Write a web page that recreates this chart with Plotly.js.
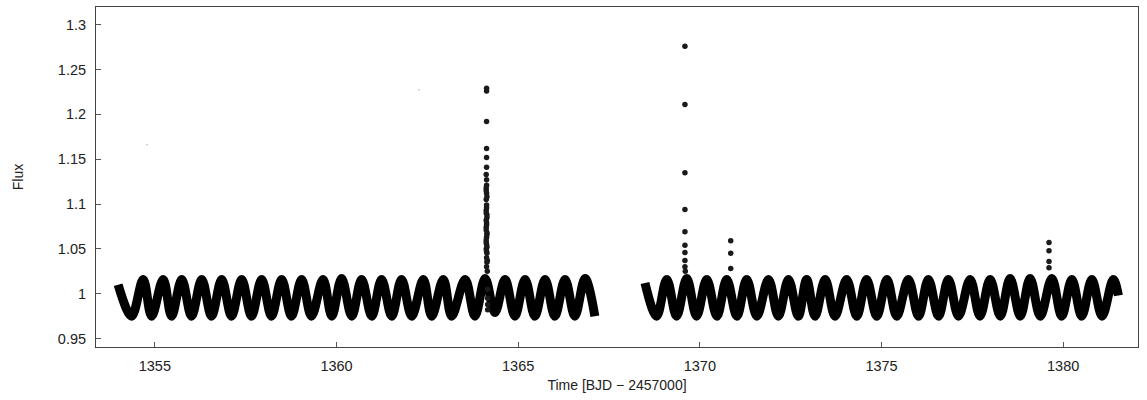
<!DOCTYPE html>
<html><head><meta charset="utf-8">
<script src="https://cdn.plot.ly/plotly-3.0.1.min.js"></script>
<style>html,body{margin:0;padding:0;background:#fff}#chart{width:1147px;height:400px}</style>
</head><body><div id="chart"></div>
<script>
// Segment 1 of the light curve: alternating maxima / minima
const seg1Time = [1353.99,1354.36,1354.68,1354.91,1355.23,1355.46,1355.74,1356.01,1356.29,1356.56,1356.84,1357.11,1357.39,1357.66,1357.94,1358.21,1358.49,1358.76,1359.04,1359.31,1359.63,1359.87,1360.14,1360.42,1360.69,1360.97,1361.24,1361.52,1361.79,1362.07,1362.39,1362.62,1362.94,1363.17,1363.54,1363.81,1364.09,1364.36,1364.64,1364.91,1365.19,1365.46,1365.74,1366.01,1366.29,1366.56,1366.84,1367.11];
const seg1Flux = [1.010,0.975,1.016,0.975,1.016,0.975,1.016,0.975,1.016,0.975,1.016,0.975,1.016,0.975,1.016,0.975,1.016,0.975,1.016,0.975,1.016,0.975,1.017,0.975,1.016,0.975,1.016,0.975,1.016,0.975,1.016,0.975,1.016,0.975,1.016,0.975,1.017,0.979,1.016,0.975,1.016,0.975,1.016,0.975,1.016,0.975,1.017,0.975];
// Segment 2
const seg2Time = [1368.49,1368.81,1369.09,1369.36,1369.64,1369.91,1370.19,1370.47,1370.74,1371.02,1371.29,1371.57,1371.89,1372.16,1372.44,1372.71,1372.94,1373.17,1373.45,1373.72,1374.04,1374.32,1374.59,1374.87,1375.15,1375.42,1375.74,1376.02,1376.29,1376.57,1376.84,1377.12,1377.44,1377.71,1377.99,1378.27,1378.54,1378.82,1379.09,1379.37,1379.69,1379.96,1380.24,1380.51,1380.79,1381.07,1381.38,1381.52];
const seg2Flux = [1.012,0.975,1.016,0.975,1.017,0.975,1.016,0.975,1.016,0.975,1.016,0.975,1.016,0.975,1.016,0.975,1.016,0.975,1.016,0.975,1.016,0.975,1.016,0.975,1.016,0.975,1.016,0.975,1.016,0.975,1.016,0.975,1.016,0.975,1.016,0.975,1.017,0.975,1.017,0.975,1.017,0.975,1.016,0.975,1.016,0.975,1.016,0.998];
// Flare points
const flareTime = [1364.13,1364.13,1364.13,1364.13,1364.13,1364.13,1364.12,1364.13,1364.12,1364.13,1364.12,1364.13,1364.12,1364.14,1364.12,1364.13,1364.12,1364.14,1364.12,1364.13,1364.12,1364.14,1364.13,1364.14,1364.13,1364.15,
  1364.13,1364.12,1364.14,1364.13,1364.12,1364.14,1364.13,1364.12,1364.14,1364.13,1364.12,1364.14,1364.13,1364.15,
  1364.16,1364.16,1364.16,1364.16,
  1369.59,1369.59,1369.59,1369.59,1369.59,1369.59,1369.59,1369.59,1369.59,1369.60,
  1370.85,1370.85,1370.85,
  1379.61,1379.61,1379.61,1379.61];
const flareFlux = [1.229,1.226,1.192,1.162,1.152,1.141,1.133,1.127,1.118,1.112,1.105,1.099,1.093,1.088,1.082,1.077,1.071,1.066,1.060,1.055,1.050,1.045,1.040,1.035,1.030,1.025,
  1.121,1.115,1.108,1.096,1.090,1.085,1.079,1.074,1.068,1.063,1.057,1.052,1.047,1.037,
  1.005,0.995,0.988,0.982,
  1.276,1.211,1.135,1.094,1.069,1.054,1.046,1.037,1.030,1.025,
  1.059,1.045,1.028,
  1.057,1.048,1.036,1.029];
// Faint stray points
const strayTime = [1354.78,1362.27];
const strayFlux = [1.166,1.2275];
const yTickVals = [0.95,1,1.05,1.1,1.15,1.2,1.25,1.3];
const yTickText = ['0.95','1','1.05','1.1','1.15','1.2','1.25','1.3'];
const xTickVals = [1355,1360,1365,1370,1375,1380];
const xTickText = ['1355','1360','1365','1370','1375','1380'];

const band = {color:'#000', width:9, shape:'spline', smoothing:1};
const traces = [
  {x:seg1Time, y:seg1Flux, mode:'lines', line:band, hoverinfo:'skip'},
  {x:seg2Time, y:seg2Flux, mode:'lines', line:band, hoverinfo:'skip'},
  {x:flareTime, y:flareFlux, mode:'markers', marker:{color:'#1a1a1a', size:5.5, symbol:'circle'}},
  {x:strayTime, y:strayFlux, mode:'markers', marker:{color:'#d0d0d0', size:2}}
];
const fontFam = '"Liberation Sans", Arial, sans-serif';
const layout = {
  width:1147, height:400,
  margin:{l:96, r:9, t:7, b:53},
  paper_bgcolor:'#fff', plot_bgcolor:'#fff',
  showlegend:false,
  font:{family:fontFam, size:14.5, color:'#222'},
  xaxis:{range:[1353.38,1382.06], tickvals:xTickVals, ticktext:xTickText, ticks:'inside', ticklen:5, tickcolor:'#555',
    showline:true, mirror:true, linecolor:'#444', linewidth:1, showgrid:false, zeroline:false,
    tickfont:{size:14.5}, ticklabelstandoff:6,
    title:{text:'Time [BJD − 2457000]', font:{size:14, family:fontFam}, standoff:6}},
  yaxis:{range:[0.9406,1.3197], tickvals:yTickVals, ticktext:yTickText, ticks:'inside', ticklen:5, tickcolor:'#555',
    showline:true, mirror:true, linecolor:'#444', linewidth:1, showgrid:false, zeroline:false,
    tickfont:{size:14.5}, ticklabelstandoff:6,
    title:{text:'Flux', font:{size:14, family:fontFam}, standoff:30}}
};
Plotly.newPlot('chart', traces, layout, {displayModeBar:false, staticPlot:true});
</script></body></html>
